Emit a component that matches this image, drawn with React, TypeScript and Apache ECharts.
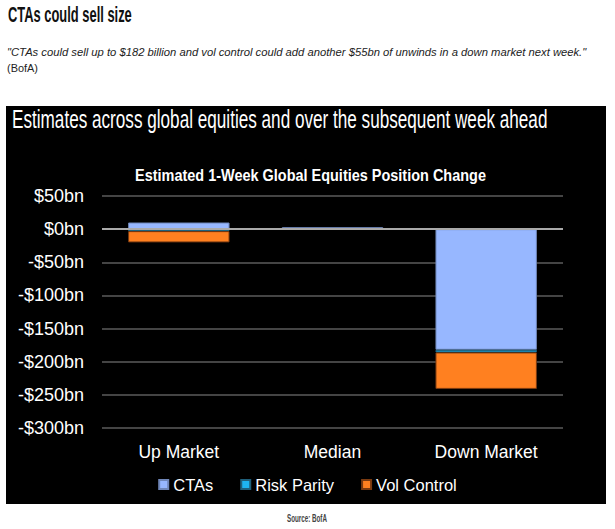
import React, { useEffect, useRef } from "react";
import * as echarts from "echarts";

const categories = ["Up Market", "Median", "Down Market"];
const ctas = [10, 3, -182];
const riskParity = [-3, null, -4];
const volControl = [-17, null, -55];
const yMin = -300;
const yMax = 50;
const yStep = 50;

const SANS = "'Liberation Sans', Arial, sans-serif";

function measure(text: string, font: string): number {
  const c = document.createElement("canvas").getContext("2d");
  if (!c) return 1;
  c.font = font;
  return c.measureText(text).width || 1;
}

function fitText(text: string, font: string, x: number, cy: number, width: number, fill: string) {
  const w = measure(text, font);
  return {
    type: "text",
    x,
    y: cy,
    scaleX: width / w,
    style: { text, font, fill, verticalAlign: "middle", align: "left" },
  };
}

export default function App() {
  const ref = useRef<HTMLDivElement>(null);
  useEffect(() => {
    if (!ref.current) return;
    const chart = echarts.init(ref.current, null, { renderer: "svg" });
    const fmt = (v: number) => (v < 0 ? "-$" + Math.abs(v) + "bn" : "$" + v + "bn");
    const barStyle = (c: string, b: string) => ({ color: c, borderColor: b, borderWidth: 1 });
    chart.setOption({
      animation: false,
      backgroundColor: "#ffffff",
      graphic: [
        { type: "rect", shape: { x: 6, y: 106, width: 600, height: 398 }, style: { fill: "#000" }, z: -10 },
        fitText("CTAs could sell size", "bold 22px " + SANS, 8, 15, 124, "#111"),
        fitText(
          "\"CTAs could sell up to $182 billion and vol control could add another $55bn of unwinds in a down market next week.\"",
          "italic 11px " + SANS, 7, 52, 580, "#222"
        ),
        fitText("(BofA)", "11px " + SANS, 7, 68, 31, "#222"),
        fitText("Estimates across global equities and over the subsequent week ahead", "25px " + SANS, 12, 120, 536, "#fff"),
        fitText("Estimated 1-Week Global Equities Position Change", "bold 16px " + SANS, 135, 175, 351, "#fff"),
        fitText("Source: BofA", "bold 10px " + SANS, 287, 518, 40, "#444"),
      ],
      grid: { left: 102, right: 52, top: 196, bottom: 101, containLabel: false },
      legend: {
        bottom: 31,
        left: "center",
        itemWidth: 9,
        itemHeight: 9,
        itemGap: 27,
        icon: "rect",
        textStyle: { color: "#fff", fontSize: 16.5, fontFamily: SANS },
        data: ["CTAs", "Risk Parity", "Vol Control"],
      },
      xAxis: {
        type: "category",
        data: categories,
        axisLine: { show: false },
        axisTick: { show: false },
        axisLabel: { color: "#fff", fontSize: 17.5, fontFamily: SANS, margin: 15 },
      },
      yAxis: {
        type: "value",
        min: yMin,
        max: yMax,
        interval: yStep,
        axisLine: { show: false },
        axisTick: { show: false },
        axisLabel: { color: "#fff", fontSize: 18, fontFamily: SANS, margin: 18, formatter: fmt },
        splitLine: { lineStyle: { color: "#444", width: 2 } },
      },
      series: [
        {
          name: "CTAs", type: "bar", stack: "s", data: ctas, barCategoryGap: "34%",
          itemStyle: barStyle("#97b7ff", "#6f86b8"),
          markLine: {
            silent: true, symbol: "none", label: { show: false },
            lineStyle: { color: "#aaaaaa", width: 2, type: "solid" },
            data: [{ yAxis: 0 }],
          },
        },
        { name: "Risk Parity", type: "bar", stack: "s", data: riskParity, itemStyle: barStyle("#1eb4f0", "#1f5f7a") },
        { name: "Vol Control", type: "bar", stack: "s", data: volControl, itemStyle: barStyle("#ff8020", "#7a3a10") },
      ],
    });
    return () => chart.dispose();
  }, []);
  return <div ref={ref} style={{ position: "absolute", left: 0, top: 0, width: 615, height: 529 }} />;
}
